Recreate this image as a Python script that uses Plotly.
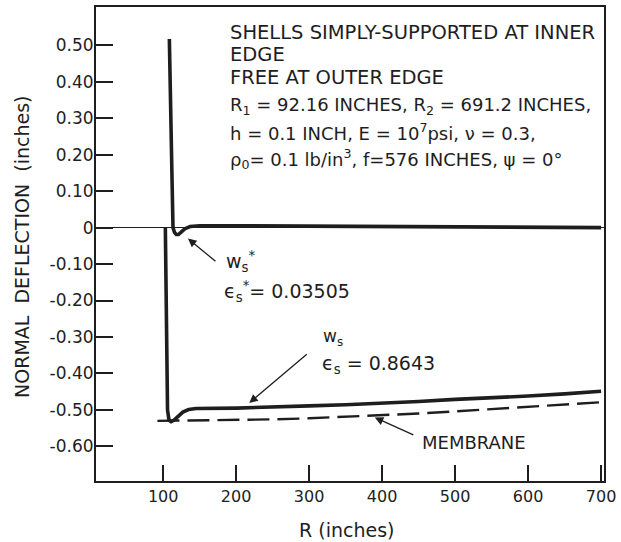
import plotly.graph_objects as go

# Radial coordinate R (inches) and normal deflection (inches)
r_ws_star = [108.5, 110, 112, 113.5, 115.5, 118, 121, 125, 130, 137, 150, 200, 300, 400, 500, 600, 700]
w_ws_star = [0.517, 0.40, 0.15, 0.0, -0.013, -0.019, -0.019, -0.012, -0.003, 0.003, 0.005, 0.005,
             0.004, 0.003, 0.002, 0.001, 0.0]

r_ws = [103, 104.5, 106, 108, 111, 115, 120, 127, 135, 145, 200, 250, 300, 350, 400, 450, 500,
        550, 600, 650, 700]
w_ws = [0.0, -0.25, -0.50, -0.528, -0.532, -0.528, -0.518, -0.506, -0.499, -0.496, -0.495, -0.493,
        -0.489, -0.486, -0.482, -0.477, -0.471, -0.467, -0.462, -0.456, -0.449]

r_membrane = [92.16, 150, 200, 250, 300, 350, 400, 450, 500, 550, 600, 650, 700]
w_membrane = [-0.530, -0.529, -0.528, -0.526, -0.523, -0.519, -0.515, -0.510, -0.504, -0.498,
              -0.491, -0.485, -0.479]

x_ticks = [100, 200, 300, 400, 500, 600, 700]
x_labels = ["100", "200", "300", "400", "500", "600", "700"]
y_ticks = [0.5, 0.4, 0.3, 0.2, 0.1, 0.0, -0.1, -0.2, -0.3, -0.4, -0.5, -0.6]
y_labels = ["0.50", "0.40", "0.30", "0.20", "0.10", "0", "-0.10", "-0.20", "-0.30", "-0.40",
            "-0.50", "-0.60"]

INK = "#1e1e1e"
FONT = "DejaVu Sans"

# plot area in pixels (left, top, width, height)
L, T, W, H = 96, 5, 508, 476


def px(x):
    return (x - L) / W


def py(y):
    return 1 - (y - T) / H


fig = go.Figure()
fig.add_trace(go.Scatter(x=r_ws_star, y=w_ws_star, mode="lines",
                         line=dict(color=INK, width=3.6), hoverinfo="skip"))
fig.add_trace(go.Scatter(x=r_ws, y=w_ws, mode="lines",
                         line=dict(color=INK, width=3.6), hoverinfo="skip"))
fig.add_trace(go.Scatter(x=r_membrane, y=w_membrane, mode="lines",
                         line=dict(color=INK, width=2.4, dash="22px,8px"), hoverinfo="skip"))

ann = []


def text(s, x, y, size=19, anchor="left"):
    ann.append(dict(text=s, x=px(x), y=py(y), xref="paper", yref="paper", showarrow=False,
                    xanchor=anchor, yanchor="middle", font=dict(family=FONT, size=size, color=INK)))


# boundary-condition / parameter block
text("SHELLS SIMPLY-SUPPORTED AT INNER", 228, 31, size=19.5)
text("EDGE", 228, 53, size=19.5)
text("FREE AT OUTER EDGE", 228, 76, size=19.5)
text("R<sub>1</sub> = 92.16 INCHES, R<sub>2</sub> = 691.2 INCHES,", 228, 104, size=18)
text("h = 0.1 INCH, E = 10<sup>7</sup>psi, ν = 0.3,", 228, 131, size=18)
text("ρ<sub>0</sub>= 0.1 lb/in<sup>3</sup>, f=576 INCHES, ψ = 0°", 228, 158, size=18)

# curve labels
text("w<sub>s</sub><sup>*</sup>", 224, 261)
text("ϵ<sub>s</sub><sup>*</sup>= 0.03505", 222, 291)

text("w<sub>s</sub>", 321, 337, size=17)
text("ϵ<sub>s</sub> = 0.8643", 320, 364)

text("MEMBRANE", 420, 442, size=18)

# axis titles
ann.append(dict(text="NORMAL  DEFLECTION  (inches)", x=px(22), y=py(246), xref="paper",
                yref="paper", showarrow=False, textangle=-90, xanchor="center", yanchor="middle",
                font=dict(family=FONT, size=19, color=INK)))
ann.append(dict(text="R (inches)", x=px(346), y=py(530), xref="paper", yref="paper",
                showarrow=False, xanchor="center", yanchor="middle",
                font=dict(family=FONT, size=19, color=INK)))

# leader arrows pointing at the curves
for tip_x, tip_y, dx, dy in [(134, -0.030, 29, 24), (218, -0.481, 59, -50), (390, -0.521, 40, 18)]:
    ann.append(dict(text="", x=tip_x, y=tip_y, xref="x", yref="y", ax=dx, ay=dy, showarrow=True,
                    arrowhead=2, arrowsize=1.3, arrowwidth=1.3, arrowcolor=INK))

fig.update_layout(
    width=621, height=542,
    margin=dict(l=L, r=621 - L - W, t=T, b=542 - T - H),
    paper_bgcolor="white", plot_bgcolor="white",
    showlegend=False,
    annotations=ann,
    xaxis=dict(range=[8, 704], tickvals=x_ticks, ticktext=x_labels, ticks="inside", ticklen=16,
               tickwidth=1.6, tickcolor=INK, showline=True, linewidth=2, linecolor=INK,
               mirror=True, showgrid=False, zeroline=False,
               tickfont=dict(family=FONT, size=16, color=INK)),
    yaxis=dict(range=[-0.695, 0.605], tickvals=y_ticks, ticktext=y_labels, ticks="inside",
               ticklen=17, tickwidth=1.6, tickcolor=INK, showline=True, linewidth=2,
               linecolor=INK, mirror=True, showgrid=False, zeroline=True, zerolinewidth=1.4,
               zerolinecolor=INK, ticklabelstandoff=-3,
               tickfont=dict(family=FONT, size=17, color=INK)),
)

fig.write_html("out.html")
